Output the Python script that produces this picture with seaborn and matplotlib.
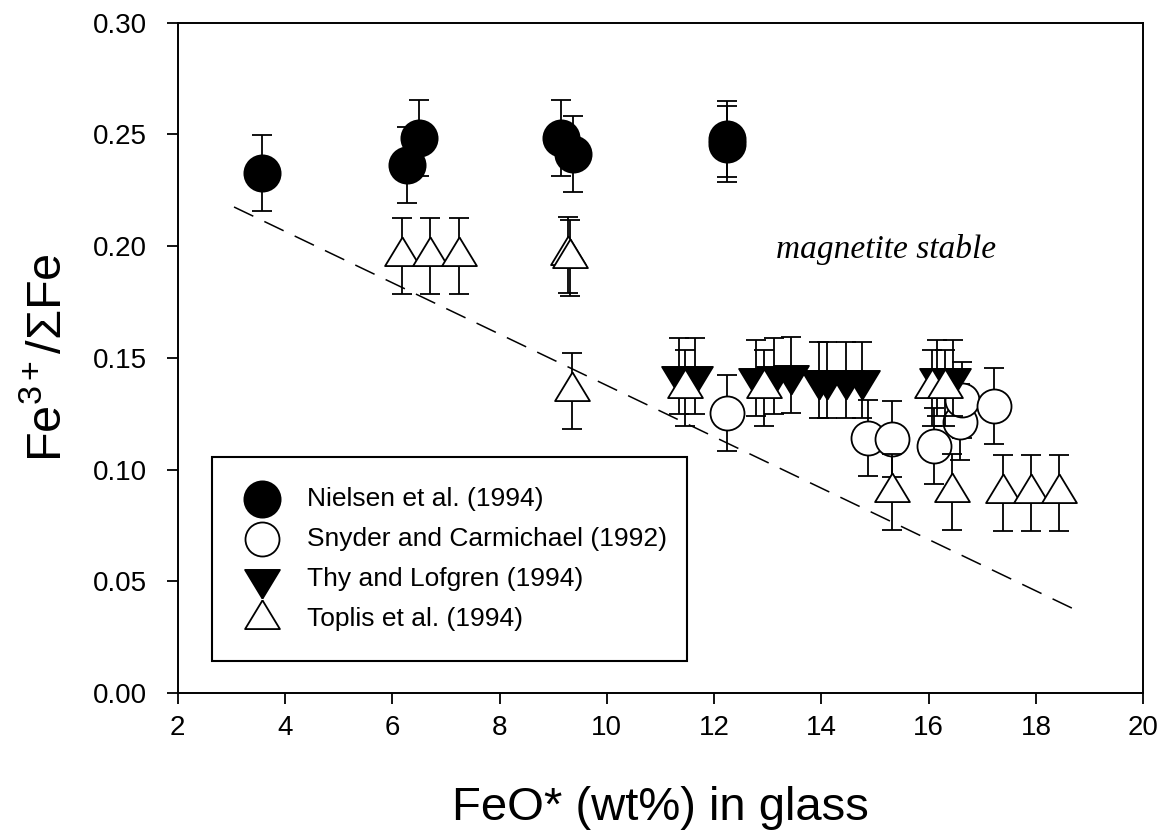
import matplotlib
matplotlib.use("Agg")
import matplotlib.pyplot as plt
import seaborn as sns
import pandas as pd

# ---------------- data ----------------
nielsen_x = [3.57, 6.28, 6.50, 9.15, 9.37, 12.24, 12.24]
nielsen_y = [0.2325, 0.2365, 0.2485, 0.2485, 0.2410, 0.2480, 0.2455]

snyder_x = [12.24, 14.87, 15.31, 16.10, 16.58, 16.62, 17.22]
snyder_y = [0.1255, 0.1142, 0.1137, 0.1106, 0.1215, 0.1310, 0.1285]

thy_x = [11.35, 11.65, 12.78, 13.12, 13.43, 13.95, 14.10, 14.45, 14.75, 16.15, 16.45]
thy_y = [0.1420, 0.1420, 0.1410, 0.1420, 0.1425, 0.1400, 0.1400, 0.1400, 0.1400, 0.1410, 0.1410]

toplis_x = [6.18, 6.70, 7.25, 9.28, 9.32, 9.35, 11.46, 12.93, 16.07, 16.30,
            15.31, 16.43, 17.39, 17.90, 18.42]
toplis_y = [0.1955, 0.1955, 0.1955, 0.1960, 0.1945, 0.1350, 0.1365, 0.1365, 0.1365, 0.1365,
            0.0900, 0.0900, 0.0895, 0.0895, 0.0895]

err = 0.017

line_x = [3.05, 18.8]
line_y = [0.2175, 0.0365]

labels = ["Nielsen et al. (1994)", "Snyder and Carmichael (1992)",
          "Thy and Lofgren (1994)", "Toplis et al. (1994)"]
x_ticks = [2, 4, 6, 8, 10, 12, 14, 16, 18, 20]
y_ticks = [0.00, 0.05, 0.10, 0.15, 0.20, 0.25, 0.30]

# ---------------- style ----------------
sns.set_theme(style="ticks")
plt.rcParams["font.family"] = ["Liberation Sans", "DejaVu Sans"]
plt.rcParams["mathtext.fontset"] = "custom"
plt.rcParams["mathtext.rm"] = "Liberation Sans"
plt.rcParams["mathtext.it"] = "Liberation Sans:italic"
plt.rcParams["mathtext.bf"] = "Liberation Sans:bold"
for k in ["text.color", "axes.labelcolor", "xtick.color", "ytick.color",
          "axes.edgecolor"]:
    plt.rcParams[k] = "black"

fig = plt.figure(figsize=(11.69, 8.38), dpi=100)
ax = fig.add_axes([0.152, 0.173, 0.826, 0.8])

up_tri = [(0, 1.1), (-1, -0.55), (1, -0.55), (0, 1.1)]
down_tri = [(0, -1.1), (-1, 0.55), (1, 0.55), (0, -1.1)]

lw = 1.3
eb_kw = dict(fmt="none", ecolor="black", elinewidth=lw, capsize=7.5, capthick=lw)

# dashed line
sns.lineplot(x=line_x, y=line_y, ax=ax, color="black", lw=1.1,
             linestyle=(0, (14, 8)), zorder=1)

series = [
    (nielsen_x, nielsen_y, "o", "black", 680, labels[0]),
    (snyder_x, snyder_y, "o", "white", 600, labels[1]),
    (thy_x, thy_y, down_tri, "black", 760, labels[2]),
    (toplis_x, toplis_y, up_tri, "white", 760, labels[3]),
]

z = 2
for xs, ys, mk, fc, s, lab in series:
    ax.errorbar(xs, ys, yerr=err, zorder=z, **eb_kw)
    df = pd.DataFrame({"x": xs, "y": ys})
    sns.scatterplot(data=df, x="x", y="y", ax=ax, marker=mk, s=s,
                    color=fc, edgecolor="black", linewidth=lw, zorder=z + 1,
                    label=lab)
    z += 2

ax.text(15.2, 0.1985, "magnetite stable", fontsize=24, style="italic",
        family=["Liberation Serif", "DejaVu Serif"], ha="center", va="center")

ax.set_xlim(2, 20)
ax.set_ylim(0, 0.30)
ax.set_xticks(x_ticks)
ax.set_yticks(y_ticks)
ax.set_yticklabels([f"{v:.2f}" for v in y_ticks])
ax.tick_params(axis="both", direction="out", length=8, width=1.3,
               labelsize=20, color="black", labelcolor="black")
ax.tick_params(axis="x", pad=8)
ax.tick_params(axis="y", pad=14)
for sp in ax.spines.values():
    sp.set_visible(True)
    sp.set_linewidth(1.4)
    sp.set_color("black")

ax.set_xlabel("FeO* (wt%) in glass", fontsize=34, labelpad=32)
ax.set_ylabel(r"Fe$^{3+}$/ΣFe", fontsize=35, labelpad=16)

leg = ax.legend(loc="upper left", bbox_to_anchor=(0.036, 0.352, 0.491, 0),
                mode="expand", borderaxespad=0, fontsize=19, frameon=True,
                fancybox=False, edgecolor="black", framealpha=1,
                borderpad=1.15, handlelength=1.45, handletextpad=1.0,
                labelspacing=0.6, scatterpoints=1)
leg.get_frame().set_linewidth(1.5)

fig.savefig("out.png", dpi=100, facecolor="white")
